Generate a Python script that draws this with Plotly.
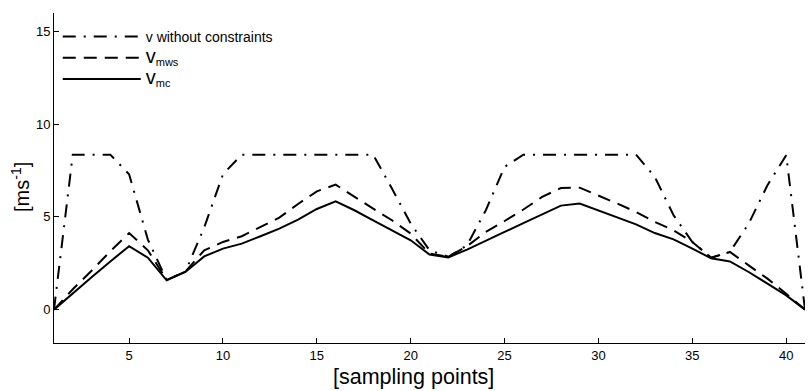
import plotly.graph_objects as go

samples = list(range(1, 42))

v_free = [0, 8.36, 8.36, 8.36, 7.3, 3.78, 1.6, 2.05, 4.43, 7.3,
          8.36, 8.36, 8.36, 8.36, 8.36, 8.36, 8.36, 8.36, 6.53, 4.64,
          3.2, 2.85, 3.47, 5.36, 7.7, 8.36, 8.36, 8.36, 8.36, 8.36,
          8.36, 8.36, 7.16, 5.09, 3.65, 2.8, 3.11, 4.64, 6.71, 8.33, 0]

v_mws = [0, 1.1, 2.1, 3.15, 4.13, 3.2, 1.6, 2.05, 3.2, 3.65,
         3.96, 4.46, 4.96, 5.7, 6.38, 6.74, 6.08, 5.45, 4.82, 4.1,
         3.02, 2.85, 3.42, 4.19, 4.78, 5.4, 6.08, 6.56, 6.58, 6.17,
         5.72, 5.27, 4.73, 4.28, 3.65, 2.8, 3.11, 2.39, 1.67, 0.86, 0]

v_mc = [0, 0.9, 1.75, 2.6, 3.42, 2.8, 1.58, 2.03, 2.87, 3.29,
        3.56, 3.96, 4.37, 4.86, 5.43, 5.84, 5.36, 4.82, 4.28, 3.74,
        2.97, 2.82, 3.24, 3.7, 4.19, 4.67, 5.14, 5.61, 5.72, 5.36,
        5.0, 4.6, 4.13, 3.79, 3.29, 2.77, 2.6, 2.03, 1.4, 0.77, 0]

names = ["v without constraints",
         "<span style='font-size:20px'>v</span><sub><span style='font-size:11px'>mws</span></sub>",
         "<span style='font-size:20px'>v</span><sub><span style='font-size:11px'>mc</span></sub>"]
series = [v_free, v_mws, v_mc]
dashes = ["13px,8px,2px,8px", "13px,8px", "solid"]

x_title = "[sampling points]"
y_title = "[ms<sup>-1</sup>]"

fig = go.Figure()
for name, ys, dash in zip(names, series, dashes):
    fig.add_trace(go.Scatter(x=samples, y=ys, mode="lines", name=name,
                             line=dict(color="black", width=2, dash=dash)))

axis_common = dict(showline=True, linecolor="black", linewidth=1,
                   ticks="inside", ticklen=5, tickcolor="black",
                   showgrid=False, zeroline=False, mirror=False,
                   tickfont=dict(family="Liberation Sans, Arial", size=13, color="black"))

fig.update_layout(
    width=811, height=391,
    margin=dict(l=54, r=6, t=13, b=48),
    paper_bgcolor="white", plot_bgcolor="white",
    font=dict(family="Liberation Sans, Arial", color="black"),
    xaxis=dict(range=[1, 41], tick0=0, dtick=5, **axis_common),
    yaxis=dict(range=[-1.8, 16], tickvals=[0, 5, 10, 15], **axis_common),
    legend=dict(x=0.005, y=0.976, xanchor="left", yanchor="top",
                bgcolor="rgba(0,0,0,0)", borderwidth=0,
                font=dict(size=14, color="black"), itemwidth=78,
                tracegroupgap=0),
    showlegend=True,
    annotations=[
        dict(text=x_title, xref="paper", yref="paper", x=0.479, y=-0.103,
             xanchor="center", yanchor="middle", showarrow=False,
             font=dict(size=21.5, color="black")),
        dict(text=y_title, xref="paper", yref="paper", x=-0.0453, y=0.4727,
             xanchor="center", yanchor="middle", showarrow=False, textangle=-90,
             font=dict(size=20, color="black")),
    ],
)

fig.write_html("out.html")
